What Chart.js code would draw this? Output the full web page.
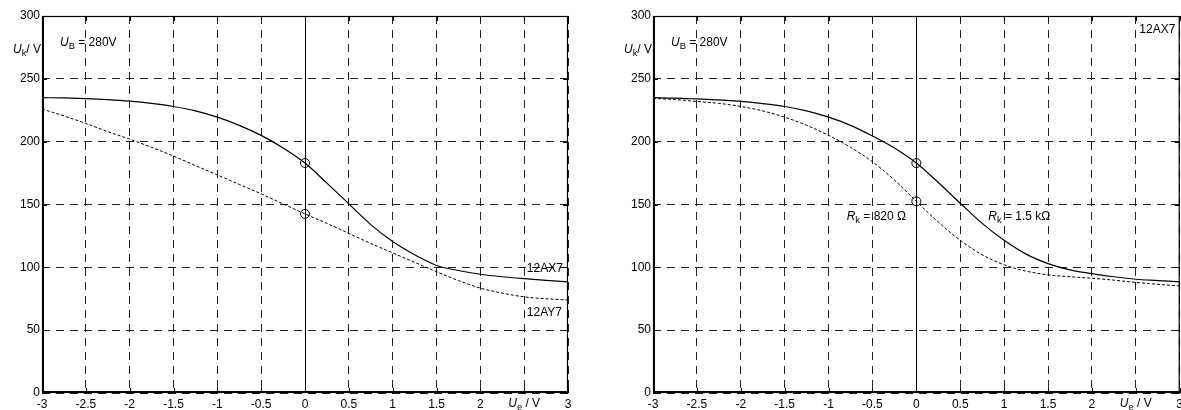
<!DOCTYPE html>
<html><head><meta charset="utf-8">
<script src="https://cdn.jsdelivr.net/npm/chart.js@4.4.0/dist/chart.umd.min.js"></script>
<style>
html,body{margin:0;padding:0;background:#fff;width:1181px;height:410px;overflow:hidden;position:relative}
canvas{position:absolute;top:0}
#c1{left:0}
#c2{left:611px}
</style></head><body>
<canvas id="c1" width="590" height="410"></canvas>
<canvas id="c2" width="582" height="410"></canvas>
<script>
// ---- data (Ue in V, Uk in V) ----
const xValues = [-3,-2.75,-2.5,-2.25,-2,-1.75,-1.5,-1.25,-1,-0.75,-0.5,-0.25,0,0.25,0.5,0.75,1,1.25,1.5,1.75,2,2.25,2.5,2.75,3];
// left chart: 12AX7 (solid) and 12AY7 (dashed)
const left12AX7 = [235,234.8,234.3,233.5,232.3,230.5,228,224.5,219.5,213,205,195,183,167,150.5,134,120.5,110,101.5,97.5,94.5,92.5,91,89.7,88.5];
const left12AY7 = [226,220.5,214.5,208,202,195.5,188.5,181,173.5,166,158.5,150.5,142.5,135,127,119,111.5,104,96.5,89.5,83.5,79.5,76.5,75,74];
// right chart: 12AX7 with Rk = 1.5 kΩ (solid) and Rk = 820 Ω (dashed)
const rightRk1500 = [235,234.7,234,233.2,232,230.3,228,224.5,219.5,213,204.5,195,183,167.5,151,135,121.5,110.5,103,98,95,92.5,90.5,89.5,88.5];
const rightRk820  = [234.5,233.5,232,230.5,228,224.5,219.5,213,205,195.5,184,169.5,152.5,136,121.5,110,102,97,94,92.5,91.3,89.8,88,86.5,85.2];
// operating points at Ue = 0
const markerX = [0, 0];
const leftMarkers = [183, 142.5];
const rightMarkers = [183, 152.5];
// axes
const yMin = 0, yMax = 300, yStep = 50;
const xMin = -3, xMax = 3, xStep = 0.5;

const FONT = '"Liberation Sans", Arial, sans-serif';
const toPts = (xs, ys) => xs.map((x, i) => ({x, y: ys[i]}));

function drawRich(ctx, x, y, parts, align, size) {
  const fontOf = p => (p.italic ? 'italic ' : '') + (p.sub ? size * 0.78 : size) + 'px ' + FONT;
  let w = 0;
  parts.forEach(p => { ctx.font = fontOf(p); w += ctx.measureText(p.t).width; });
  let cx = align === 'right' ? x - w : align === 'center' ? x - w / 2 : x;
  ctx.textAlign = 'left';
  ctx.textBaseline = 'middle';
  parts.forEach(p => {
    ctx.font = fontOf(p);
    ctx.fillText(p.t, cx, y + (p.sub ? size * 0.28 : 0));
    cx += ctx.measureText(p.t).width;
  });
}

const decorPlugin = {
  id: 'decor',
  beforeDatasetsDraw(chart) {
    const {ctx, chartArea: a, scales: {x}} = chart;
    ctx.save();
    ctx.strokeStyle = '#000'; ctx.lineWidth = 1;
    ctx.beginPath();
    const px = Math.round(x.getPixelForValue(0)) + 0.5;
    ctx.moveTo(px, a.top); ctx.lineTo(px, a.bottom); ctx.stroke();
    ctx.restore();
  },
  afterDraw(chart, args, opts) {
    const {ctx, chartArea: a, scales: {x, y}} = chart;
    ctx.save();
    ctx.strokeStyle = '#000';
    // inward tick marks
    ctx.lineWidth = 1;
    ctx.beginPath();
    x.ticks.forEach(t => {
      const px = Math.round(x.getPixelForValue(t.value)) + 0.5;
      ctx.moveTo(px, a.top); ctx.lineTo(px, a.top + 5);
      ctx.moveTo(px, a.bottom); ctx.lineTo(px, a.bottom - 5);
    });
    y.ticks.forEach(t => {
      const py = Math.round(y.getPixelForValue(t.value)) + 0.5;
      ctx.moveTo(a.left, py); ctx.lineTo(a.left + 5, py);
      ctx.moveTo(a.right, py); ctx.lineTo(a.right - 5, py);
    });
    ctx.stroke();
    // frame
    ctx.lineWidth = 1.2;
    ctx.strokeRect(a.left + 0.5, a.top + 0.5, a.right - a.left - 1, a.bottom - a.top - 1);
    ctx.lineWidth = 2;
    ctx.beginPath();
    ctx.moveTo(a.left + 1, a.top); ctx.lineTo(a.left + 1, a.bottom - 1); ctx.lineTo(a.right, a.bottom - 1);
    ctx.stroke();
    // texts
    ctx.fillStyle = '#000';
    drawRich(ctx, a.left - 1, y.getPixelForValue(273), [{t:'U', italic:true},{t:'k', sub:true},{t:'/ V'}], 'right', 12);
    drawRich(ctx, x.getPixelForValue(2.5), a.bottom + 11, [{t:'U', italic:true},{t:'e', sub:true},{t:' / V'}], 'center', 12);
    (opts.notes || []).forEach(n => {
      drawRich(ctx, x.getPixelForValue(n.x), y.getPixelForValue(n.y), n.parts, n.align || 'left', 12);
    });
    ctx.restore();
  }
};

function makeChart(id, solid, dashed, markers, padRight, notes) {
  return new Chart(document.getElementById(id), {
    data: {
      datasets: [
        {type: 'line', data: toPts(xValues, solid), borderColor: '#000', borderWidth: 1.2, pointRadius: 0, cubicInterpolationMode: 'monotone', fill: false},
        {type: 'line', data: toPts(xValues, dashed), borderColor: '#000', borderWidth: 1, borderDash: [3, 2], pointRadius: 0, cubicInterpolationMode: 'monotone', fill: false},
        {type: 'scatter', data: toPts(markerX, markers), pointRadius: 4.5, pointBorderWidth: 1, pointBorderColor: '#000', pointBackgroundColor: 'rgba(0,0,0,0)', showLine: false}
      ]
    },
    options: {
      responsive: false,
      animation: false,
      events: [],
      layout: {autoPadding: false, padding: {top: 16, right: padRight, left: 0, bottom: 0}},
      plugins: {legend: {display: false}, tooltip: {enabled: false}, decor: {notes}},
      scales: {
        x: {
          type: 'linear', min: xMin, max: xMax,
          afterFit: s => { s.height = 17; },
          border: {display: false, dash: [8, 6]},
          grid: {color: '#222', lineWidth: 1, drawTicks: false},
          ticks: {stepSize: xStep, autoSkip: false, maxRotation: 0, padding: 4, color: '#000',
                  font: {family: FONT, size: 12},
                  callback: v => (v === 2.5 ? '' : String(v))}
        },
        y: {
          type: 'linear', min: yMin, max: yMax,
          afterFit: s => { s.width = 42; },
          border: {display: false, dash: [8, 6]},
          grid: {color: '#222', lineWidth: 1, drawTicks: false},
          ticks: {stepSize: yStep, padding: 2, color: '#000', font: {family: FONT, size: 12},
                  callback: v => String(v)}
        }
      }
    },
    plugins: [decorPlugin]
  });
}

const ubNote = {x: -2.795, y: 278.5, parts: [{t:'U', italic:true},{t:'B', sub:true},{t:' = 280V'}]};

makeChart('c1', left12AX7, left12AY7, leftMarkers, 22, [
  ubNote,
  {x: 2.53, y: 98.7, parts: [{t:'12AX7'}]},
  {x: 2.53, y: 64, parts: [{t:'12AY7'}]}
]);
makeChart('c2', rightRk1500, rightRk820, rightMarkers, 13.3, [
  ubNote,
  {x: 2.54, y: 288.9, parts: [{t:'12AX7'}]},
  {x: -0.794, y: 140.3, parts: [{t:'R', italic:true},{t:'k', sub:true},{t:' = 820 Ω'}]},
  {x: 0.819, y: 140.3, parts: [{t:'R', italic:true},{t:'k', sub:true},{t:' = 1.5 kΩ'}]}
]);
</script>
</body></html>
